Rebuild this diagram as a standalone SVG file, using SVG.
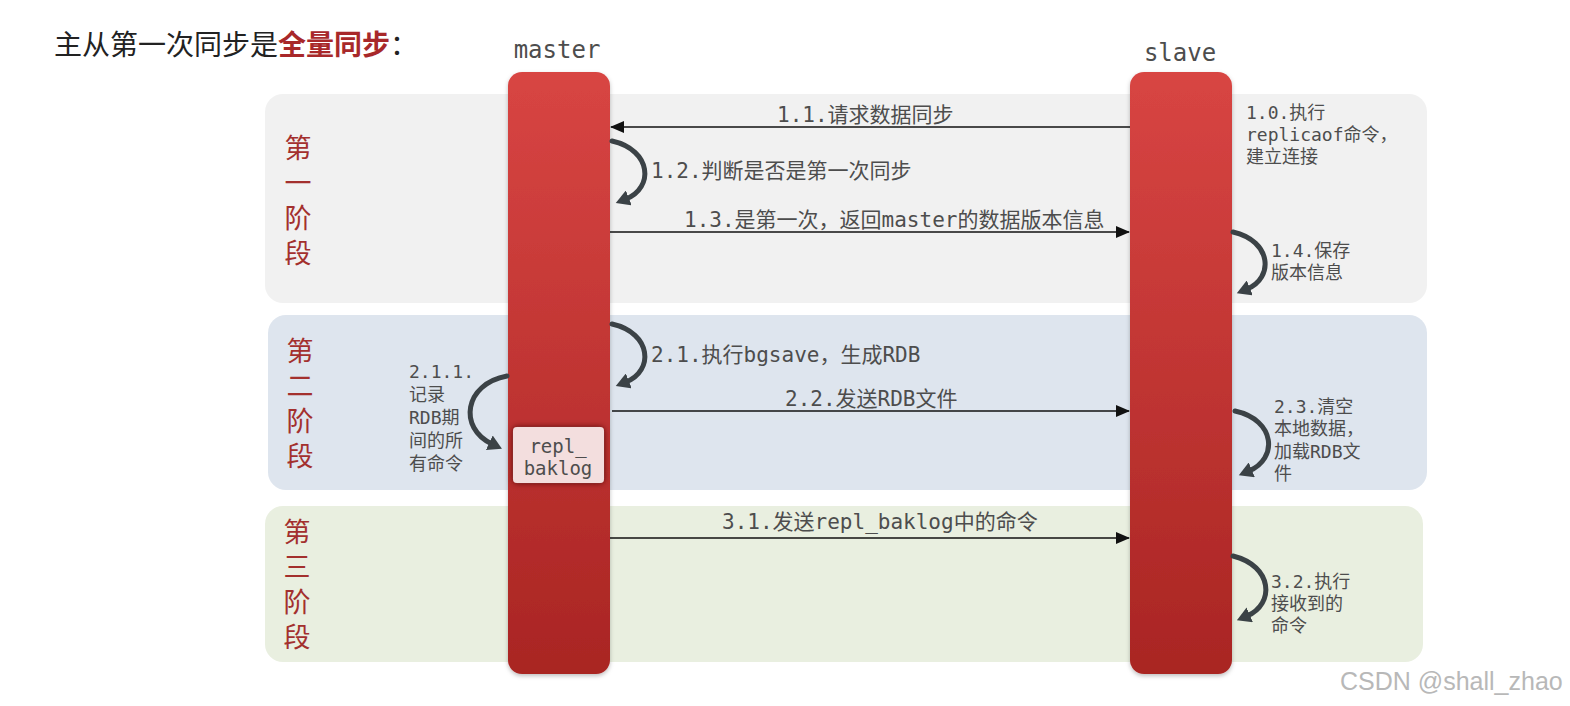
<svg xmlns="http://www.w3.org/2000/svg" width="1570" height="706" viewBox="0 0 1570 706">
<defs>
<style>
.mono{font-family:"DejaVu Sans Mono","Noto Sans CJK SC",monospace;fill:#4d4d4d}
.lbl{font-size:21px}
.sm{font-size:18px}
.phase{font-family:"Noto Sans CJK SC",sans-serif;font-size:27px;fill:#a3302e;writing-mode:vertical-rl;letter-spacing:8px}
.line{stroke:#111;stroke-width:1.3;fill:none}
.loop{stroke:#3b4246;stroke-width:5;fill:none;stroke-linecap:round}
.bar{fill:url(#barGrad);filter:url(#sh)}
</style>
<linearGradient id="barGrad" x1="0" y1="0" x2="0" y2="1">
<stop offset="0" stop-color="#d84543"/>
<stop offset="1" stop-color="#a92523"/>
</linearGradient>
<filter id="sh" x="-20%" y="-5%" width="140%" height="110%">
<feDropShadow dx="0" dy="2" stdDeviation="2" flood-color="#000" flood-opacity="0.25"/>
</filter>
<filter id="boxsh" x="-20%" y="-20%" width="140%" height="140%">
<feGaussianBlur in="SourceAlpha" stdDeviation="3" result="b"/>
<feFlood flood-color="#4a1212" flood-opacity="0.9"/>
<feComposite in2="b" operator="in" result="s"/>
<feMerge><feMergeNode in="s"/><feMergeNode in="SourceGraphic"/></feMerge>
</filter>
<marker id="ah" markerUnits="userSpaceOnUse" markerWidth="14" markerHeight="12" refX="13" refY="6" orient="auto">
<path d="M0,0 L14,6 L0,12 z" fill="#111"/>
</marker>
<marker id="lh" markerUnits="userSpaceOnUse" markerWidth="16" markerHeight="16" refX="3" refY="8" orient="auto">
<path d="M0,0 L14,8 L0,16 z" fill="#3b4246"/>
</marker>
</defs>
<rect width="1570" height="706" fill="#ffffff"/>

<g id="title">
<text x="54" y="55" font-family="'Noto Sans CJK SC',sans-serif" font-size="28" fill="#222">主从第一次同步是<tspan fill="#a8282a" font-weight="bold">全量同步</tspan>：</text>
</g>

<g id="phase1">
<rect x="265" y="94" width="1162" height="209" rx="18" fill="#f1f1f1"/>
<text class="phase" x="298" y="134">第一阶段</text>
</g>
<g id="phase2">
<rect x="268" y="315" width="1159" height="175" rx="18" fill="#dee5ee"/>
<text class="phase" x="300" y="337">第二阶段</text>
</g>
<g id="phase3">
<rect x="265" y="506" width="1158" height="156" rx="18" fill="#e9efe0"/>
<text class="phase" x="297" y="518">第三阶段</text>
</g>

<g id="master">
<text class="mono" x="557" y="58" font-size="24" text-anchor="middle">master</text>
<rect class="bar" x="508" y="72" width="102" height="602" rx="14"/>
</g>
<g id="slave">
<text class="mono" x="1180" y="61" font-size="24" text-anchor="middle">slave</text>
<rect class="bar" x="1130" y="72" width="102" height="602" rx="14"/>
</g>

<g id="repl_baklog">
<rect x="513" y="427" width="91" height="56" rx="4" fill="#f3dede" filter="url(#boxsh)"/>
<text class="mono" x="558" y="453" font-size="19" text-anchor="middle">repl_</text>
<text class="mono" x="558" y="475" font-size="19" text-anchor="middle">baklog</text>
</g>

<g id="connectors">
<line class="line" x1="1130" y1="127" x2="611" y2="127" marker-end="url(#ah)"/>
<line class="line" x1="610" y1="232" x2="1129" y2="232" marker-end="url(#ah)"/>
<line class="line" x1="612" y1="411" x2="1129" y2="411" marker-end="url(#ah)"/>
<line class="line" x1="610" y1="538" x2="1129" y2="538" marker-end="url(#ah)"/>
<path class="loop" d="M612,141 C652,150 654,188 626,199" marker-end="url(#lh)"/>
<path class="loop" d="M1233,232 C1272,241 1274,278 1247,289" marker-end="url(#lh)"/>
<path class="loop" d="M612,324 C652,333 654,371 626,382" marker-end="url(#lh)"/>
<path class="loop" d="M1235,411 C1276,420 1278,459 1249,471" marker-end="url(#lh)"/>
<path class="loop" d="M1233,556 C1273,566 1275,604 1247,616" marker-end="url(#lh)"/>
<path class="loop" d="M507,376 C464,384 458,428 492,444" marker-end="url(#lh)"/>
</g>

<g id="labels">
<text class="mono lbl" x="777" y="122">1.1.请求数据同步</text>
<text class="mono lbl" x="651" y="178">1.2.判断是否是第一次同步</text>
<text class="mono lbl" x="684" y="227">1.3.是第一次，返回master的数据版本信息</text>
<text class="mono sm" x="1246" y="119">1.0.执行</text>
<text class="mono sm" x="1246" y="141">replicaof命令，</text>
<text class="mono sm" x="1246" y="163">建立连接</text>
<text class="mono sm" x="1271" y="257">1.4.保存</text>
<text class="mono sm" x="1271" y="279">版本信息</text>
<text class="mono lbl" x="651" y="362">2.1.执行bgsave，生成RDB</text>
<text class="mono lbl" x="785" y="406">2.2.发送RDB文件</text>
<text class="mono sm" x="409" y="378">2.1.1.</text>
<text class="mono sm" x="409" y="401">记录</text>
<text class="mono sm" x="409" y="424">RDB期</text>
<text class="mono sm" x="409" y="447">间的所</text>
<text class="mono sm" x="409" y="470">有命令</text>
<text class="mono sm" x="1274" y="413">2.3.清空</text>
<text class="mono sm" x="1274" y="435">本地数据，</text>
<text class="mono sm" x="1274" y="458">加载RDB文</text>
<text class="mono sm" x="1274" y="480">件</text>
<text class="mono lbl" x="722" y="529">3.1.发送repl_baklog中的命令</text>
<text class="mono sm" x="1271" y="588">3.2.执行</text>
<text class="mono sm" x="1271" y="610">接收到的</text>
<text class="mono sm" x="1271" y="632">命令</text>
</g>

<g id="watermark">
<text x="1340" y="690" font-family="'Liberation Sans',sans-serif" font-size="25" fill="#b8b8b8">CSDN @shall_zhao</text>
</g>
</svg>
